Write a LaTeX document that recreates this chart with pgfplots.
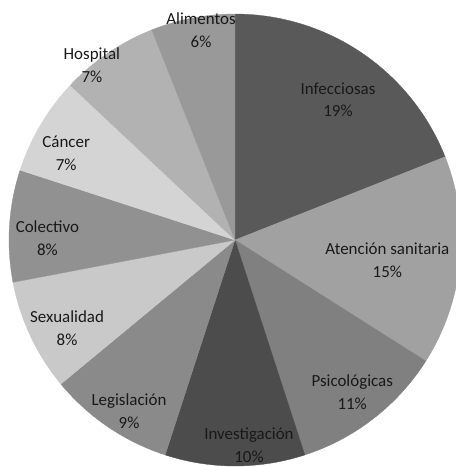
\documentclass[border=0pt]{standalone}
\usepackage{pgfplots}
\pgfplotsset{compat=1.18}
\usepgfplotslibrary{polar}
\usepackage{fontspec}
\setmainfont{Carlito}
\definecolor{cInf}{gray}{0.35}
\definecolor{cAte}{gray}{0.63}
\definecolor{cPsi}{gray}{0.50}
\definecolor{cInv}{gray}{0.30}
\definecolor{cLeg}{gray}{0.54}
\definecolor{cSex}{gray}{0.79}
\definecolor{cCol}{gray}{0.57}
\definecolor{cCan}{gray}{0.83}
\definecolor{cHos}{gray}{0.70}
\definecolor{cAli}{gray}{0.60}
\tikzset{lbl/.style={font=\fontsize{17}{23}\selectfont, align=center, text=black!90, inner sep=0pt}}
\begin{document}
\begin{tikzpicture}
\useasboundingbox (-9bp,-1bp) rectangle (447bp,466bp);
\begin{polaraxis}[at={(0,0)}, anchor=south west,
  width=452bp, height=452bp, scale only axis, hide axis,
  ymin=0, ymax=1, clip=false, samples=60]
% slices: percentages 19,15,11,10,9,8,8,7,7,6 clockwise from top
\addplot[fill=cInf, draw=cInf, line width=0.3pt, domain=90:21.6] {1} -- (axis cs:0,0) -- cycle;
\addplot[fill=cAte, draw=cAte, line width=0.3pt, domain=21.6:-32.4] {1} -- (axis cs:0,0) -- cycle;
\addplot[fill=cPsi, draw=cPsi, line width=0.3pt, domain=-32.4:-72] {1} -- (axis cs:0,0) -- cycle;
\addplot[fill=cInv, draw=cInv, line width=0.3pt, domain=-72:-108] {1} -- (axis cs:0,0) -- cycle;
\addplot[fill=cLeg, draw=cLeg, line width=0.3pt, domain=-108:-140.4] {1} -- (axis cs:0,0) -- cycle;
\addplot[fill=cSex, draw=cSex, line width=0.3pt, domain=-140.4:-169.2] {1} -- (axis cs:0,0) -- cycle;
\addplot[fill=cCol, draw=cCol, line width=0.3pt, domain=-169.2:-198] {1} -- (axis cs:0,0) -- cycle;
\addplot[fill=cCan, draw=cCan, line width=0.3pt, domain=-198:-223.2] {1} -- (axis cs:0,0) -- cycle;
\addplot[fill=cHos, draw=cHos, line width=0.3pt, domain=-223.2:-248.4] {1} -- (axis cs:0,0) -- cycle;
\addplot[fill=cAli, draw=cAli, line width=0.3pt, domain=-248.4:-270] {1} -- (axis cs:0,0) -- cycle;
\node[lbl] at (axis cs:53.7,0.77) {Infecciosas\\19\%};
\node[lbl] at (axis cs:-7.5,0.68) {Atención sanitaria\\15\%};
\node[lbl] at (axis cs:-52.4,0.85) {Psicológicas\\11\%};
\node[lbl] at (axis cs:-86.1,0.91) {Investigación\\10\%};
\node[lbl] at (axis cs:-121.8,0.89) {Legislación\\9\%};
\node[lbl] at (axis cs:207.8,0.84) {Sexualidad\\8\%};
\node[lbl] at (axis cs:179.4,0.83) {Colectivo\\8\%};
\node[lbl] at (axis cs:152.8,0.84) {Cáncer\\7\%};
\node[lbl] at (axis cs:129.3,1.0) {Hospital\\7\%};
\node[lbl] at (axis cs:99.2,0.94) {Alimentos\\6\%};
\end{polaraxis}
\end{tikzpicture}
\end{document}
